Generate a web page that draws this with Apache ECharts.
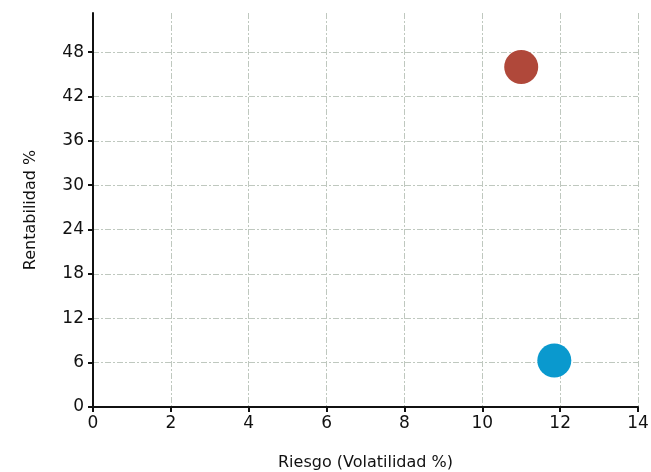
<!DOCTYPE html>
<html>
<head>
<meta charset="utf-8">
<script src="https://cdn.jsdelivr.net/npm/echarts@6/dist/echarts.min.js"></script>
<style>
  html, body { margin: 0; padding: 0; background: #ffffff; }
  #chart { width: 651px; height: 472px; }
</style>
</head>
<body>
<div id="chart"></div>
<script>
// Risk / return of two funds
const fundNames = ['Fondo A', 'Fondo B'];
const riskValues = [11.0, 11.85];     // Riesgo (Volatilidad %)
const returnValues = [46.0, 6.3];     // Rentabilidad %
const fundColors = ['#B0483A', '#0A99CE'];

const xTicks = [0, 2, 4, 6, 8, 10, 12, 14];
const yTicks = [0, 6, 12, 18, 24, 30, 36, 42, 48];

const xTitle = 'Riesgo (Volatilidad %)';
const yTitle = 'Rentabilidad %';

const textFont = 'DejaVu Sans';
const gridColor = '#bfc8bf';

const chart = echarts.init(document.getElementById('chart'), null, { renderer: 'canvas' });

const series = fundNames.map((name, i) => ({
  name: name,
  type: 'scatter',
  symbol: 'circle',
  symbolSize: 34,
  itemStyle: { color: fundColors[i], opacity: 1 },
  data: [[riskValues[i], returnValues[i]]],
  z: 3
}));

chart.setOption({
  animation: false,
  backgroundColor: '#ffffff',
  grid: { left: 93, right: 13, top: 13, bottom: 65, containLabel: false, outerBoundsMode: 'none' },
  xAxis: {
    type: 'value',
    min: 0,
    max: 14,
    interval: 2,
    name: xTitle,
    nameLocation: 'middle',
    nameGap: 48,
    nameTextStyle: { fontFamily: textFont, fontSize: 16, color: '#111' },
    axisLine: { show: true, onZero: false, lineStyle: { color: '#111', width: 2 } },
    axisTick: { show: true, length: 5, lineStyle: { color: '#111', width: 2 }, customValues: xTicks },
    axisLabel: { fontFamily: textFont, fontSize: 17, color: '#111', margin: 8, customValues: xTicks },
    splitLine: {
      show: true,
      showMinLine: false,
      lineStyle: { color: gridColor, width: 1, type: [6, 2, 2, 2] }
    }
  },
  yAxis: {
    type: 'value',
    min: 0,
    max: 53.3,
    interval: 6,
    name: yTitle,
    nameLocation: 'middle',
    nameGap: 54,
    nameRotate: 90,
    nameTextStyle: { fontFamily: textFont, fontSize: 16, color: '#111' },
    axisLine: { show: true, onZero: false, lineStyle: { color: '#111', width: 2 } },
    axisTick: { show: true, length: 5, lineStyle: { color: '#111', width: 2 }, customValues: yTicks },
    axisLabel: { fontFamily: textFont, fontSize: 17, color: '#111', margin: 9, customValues: yTicks },
    splitLine: {
      show: true,
      showMinLine: false,
      lineStyle: { color: gridColor, width: 1, type: [6, 2, 2, 2] }
    }
  },
  series: series
});
</script>
</body>
</html>
